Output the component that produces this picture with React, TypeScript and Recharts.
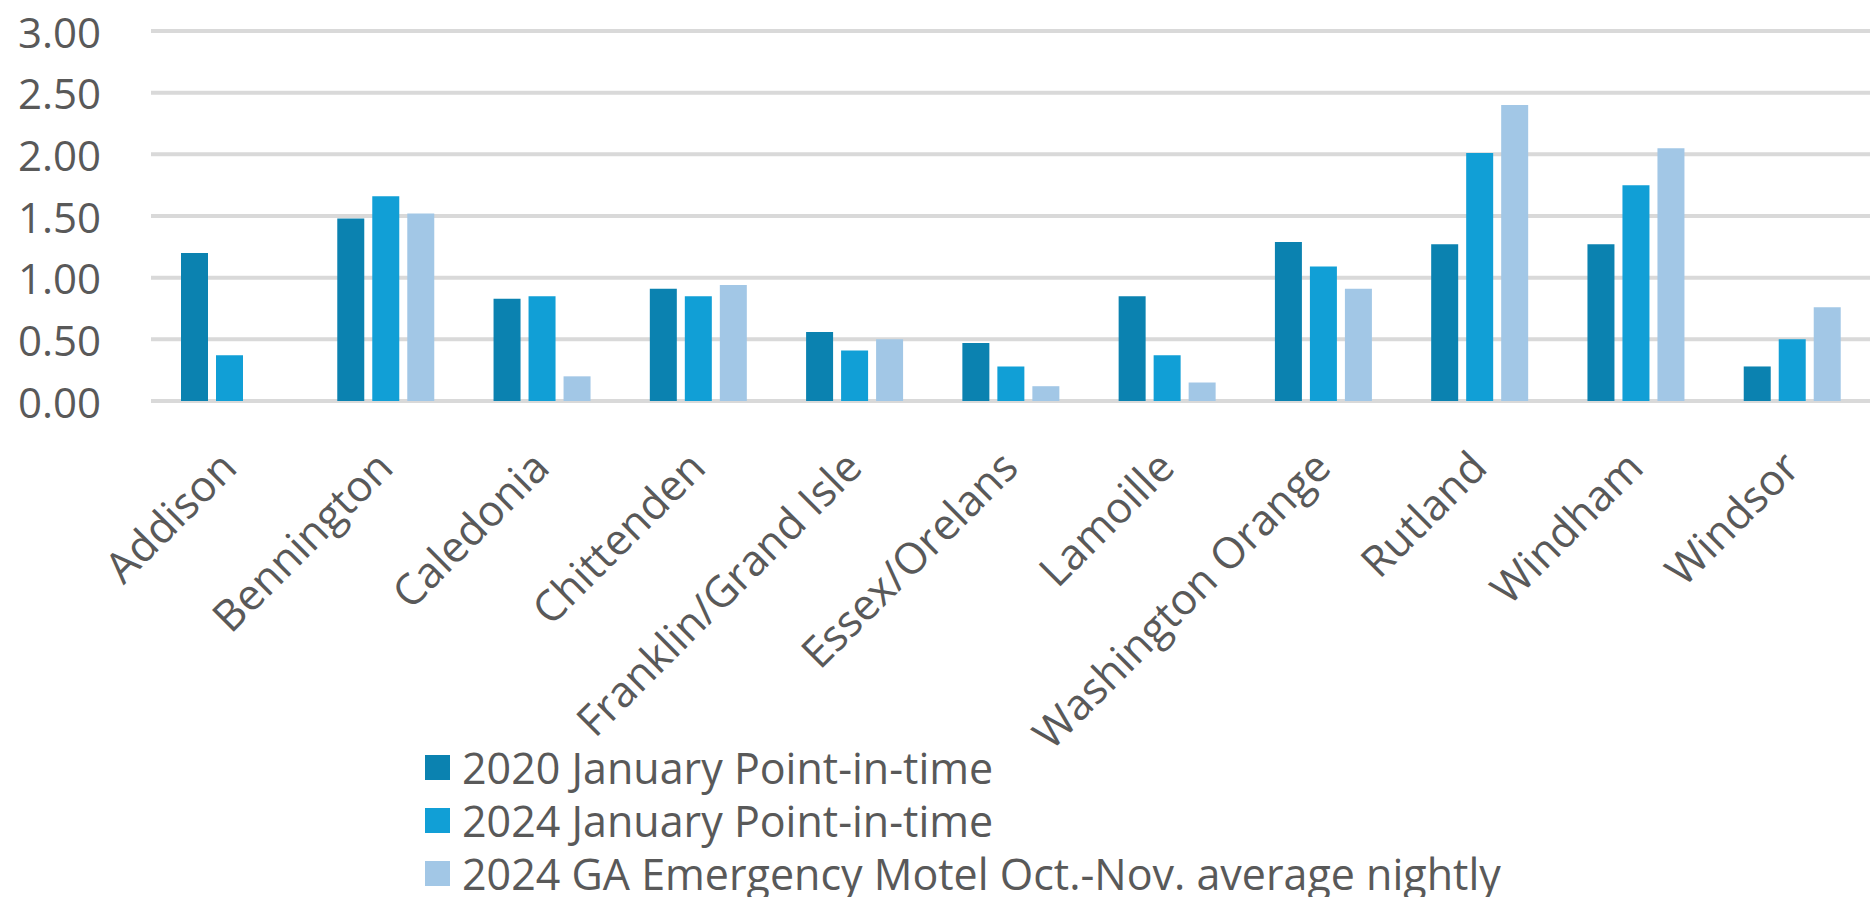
import React from "react";
import { BarChart, Bar, XAxis, YAxis, CartesianGrid } from "recharts";

const categories = [
  "Addison",
  "Bennington",
  "Caledonia",
  "Chittenden",
  "Franklin/Grand Isle",
  "Essex/Orelans",
  "Lamoille",
  "Washington Orange",
  "Rutland",
  "Windham",
  "Windsor",
];
const pit2020 = [1.2, 1.48, 0.83, 0.91, 0.56, 0.47, 0.85, 1.29, 1.27, 1.27, 0.28];
const pit2024 = [0.37, 1.66, 0.85, 0.85, 0.41, 0.28, 0.37, 1.09, 2.01, 1.75, 0.5];
const motel2024 = [0, 1.52, 0.2, 0.94, 0.5, 0.12, 0.15, 0.91, 2.4, 2.05, 0.76];
const yTicks = [0, 0.5, 1, 1.5, 2, 2.5, 3];

const seriesNames = [
  "2020 January Point-in-time",
  "2024 January Point-in-time",
  "2024 GA Emergency Motel Oct.-Nov. average nightly",
];
const seriesKeys = ["pit2020", "pit2024", "motel2024"];
const seriesColors = ["#0B82B0", "#119FD6", "#A2C7E6"];

const data = categories.map((c, i) => ({
  name: c,
  pit2020: pit2020[i],
  pit2024: pit2024[i],
  motel2024: motel2024[i],
}));

const FONT = "'Open Sans', sans-serif";
const TEXT = "#595959";

const YTick = (props: any) => {
  const { y, payload } = props;
  return (
    <text
      x={101}
      y={y}
      textAnchor="end"
      dominantBaseline="central"
      fontFamily={FONT}
      fontSize={42}
      fill={TEXT}
    >
      {Number(payload.value).toFixed(2)}
    </text>
  );
};

const XTick = (props: any) => {
  const { x, y, payload } = props;
  const ax = x + 10;
  const ay = y + 69;
  return (
    <text
      x={ax}
      y={ay}
      textAnchor="end"
      transform={`rotate(-45 ${ax} ${ay})`}
      fontFamily={FONT}
      fontSize={43}
      fill={TEXT}
    >
      {payload.value}
    </text>
  );
};

export default function App() {
  return (
    <div style={{ position: "absolute", left: 0, top: 0, width: 1870, height: 897, background: "#fff", overflow: "hidden" }}>
      <BarChart
        width={1870}
        height={897}
        data={data}
        margin={{ top: 31, right: 0, bottom: 116, left: 0 }}
        barSize={27}
        barGap={8}
      >
        <CartesianGrid vertical={false} stroke="#D9D9D9" strokeWidth={4} />
        <XAxis
          dataKey="name"
          height={380}
          interval={0}
          tickLine={false}
          axisLine={false}
          tickSize={0}
          tickMargin={0}
          tick={<XTick />}
        />
        <YAxis
          width={151}
          domain={[0, 3]}
          ticks={yTicks}
          tickLine={false}
          axisLine={false}
          tickSize={0}
          tick={<YTick />}
        />
        {seriesKeys.map((k, i) => (
          <Bar key={k} dataKey={k} name={seriesNames[i]} fill={seriesColors[i]} isAnimationActive={false} />
        ))}
      </BarChart>
      <div style={{ position: "absolute", left: 425, top: 741, fontFamily: FONT, fontSize: 43, color: TEXT }}>
        {seriesNames.map((n, i) => (
          <div key={n} style={{ display: "flex", alignItems: "center", height: 53, whiteSpace: "nowrap" }}>
            <span style={{ display: "inline-block", width: 25, height: 25, background: seriesColors[i], marginRight: 12 }} />
            <span style={{ lineHeight: 1 }}>{n}</span>
          </div>
        ))}
      </div>
    </div>
  );
}
